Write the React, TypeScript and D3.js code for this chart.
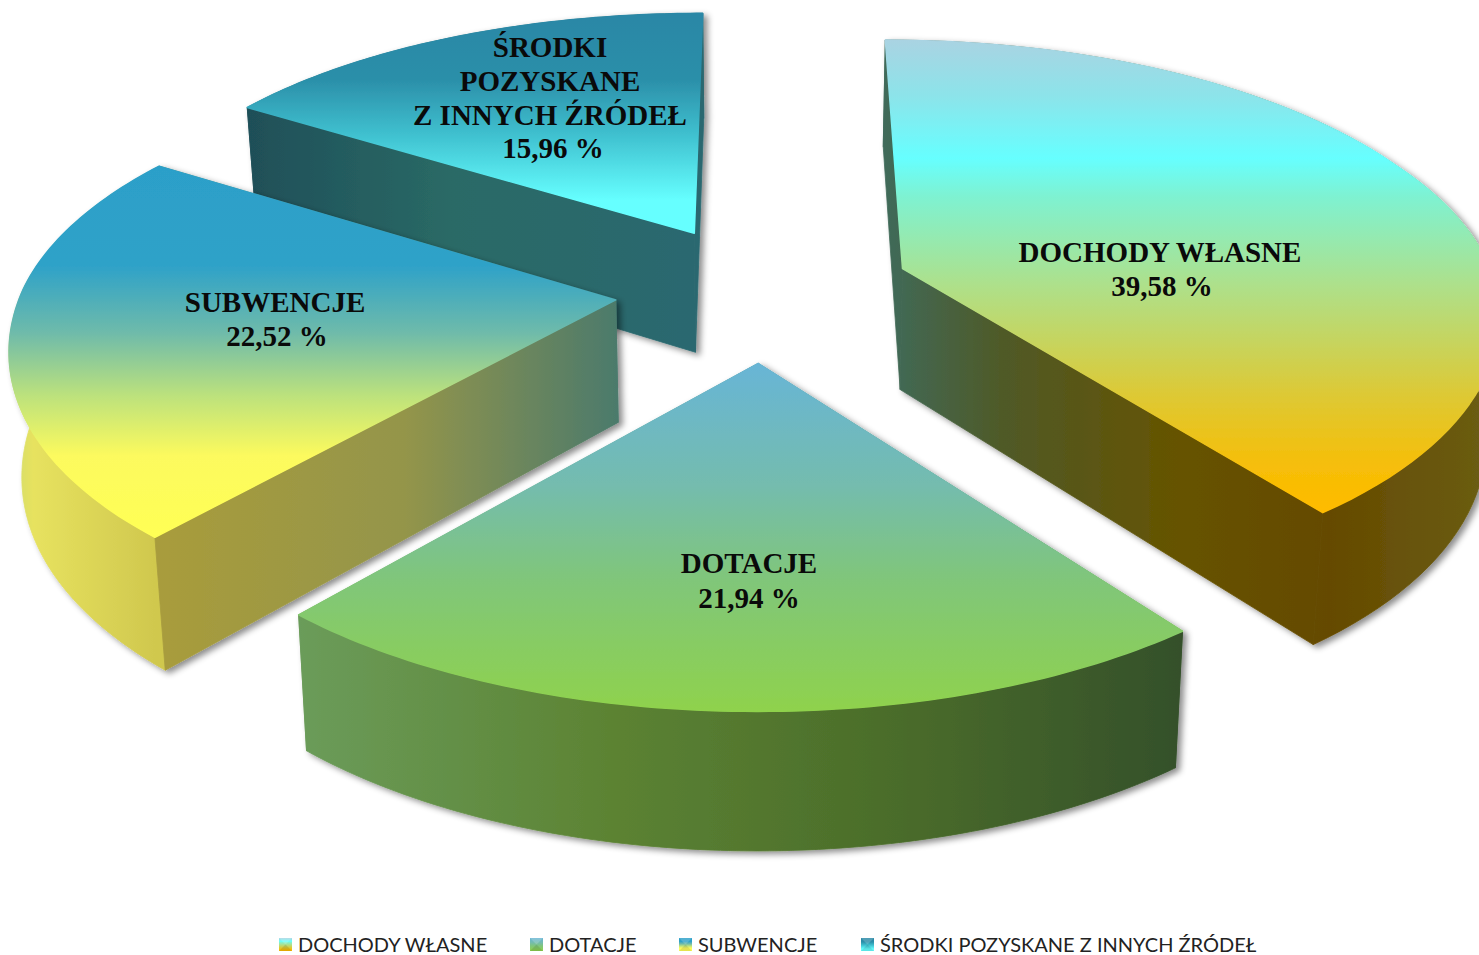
import React from "react";
import * as d3 from "d3";

const categories = ["DOCHODY WŁASNE", "DOTACJE", "SUBWENCJE", "ŚRODKI POZYSKANE Z INNYCH ŹRÓDEŁ"];
const shares = [39.58, 21.94, 22.52, 15.96];
const shareLabels = ["39,58 %", "21,94 %", "22,52 %", "15,96 %"];
const labelLines = [["DOCHODY WŁASNE"], ["DOTACJE"], ["SUBWENCJE"], ["ŚRODKI", "POZYSKANE", "Z INNYCH ŹRÓDEŁ"]];

const W = 1479, H = 955;
const cx = 763.5, cy = 290, R = 594, RT = 284.5, Dx = 7, Dy = 8, EXPLODE = 0.25, BACK = 11;

type Stop = [number, string];
const topStops: Stop[][] = [
  [[0, "#a9d3e2"], [0.12, "#8ce4ea"], [0.25, "#66ffff"], [0.33, "#7ef2d2"], [0.52, "#aee08a"], [0.75, "#ddc935"], [0.9, "#f6be08"], [1, "#ffbb00"]],
  [[0, "#68b5d6"], [0.35, "#74bcae"], [0.62, "#80c67a"], [1, "#8fd24c"]],
  [[0, "#2c9fc9"], [0.27, "#2fa2c8"], [0.45, "#6fbbaa"], [0.62, "#bde27c"], [0.78, "#fcfa5e"], [1, "#ffff55"]],
  [[0, "#2a87a6"], [0.3, "#2b8fa9"], [0.55, "#3fc0cf"], [0.85, "#66ffff"], [1, "#66ffff"]],
];
const wallStops: Stop[][] = [
  [[0, "#3f6b5c"], [0.2, "#4f5a28"], [0.5, "#665300"], [0.75, "#654a00"], [1, "#6a5c12"]],
  [[0, "#6b9c5a"], [0.35, "#5c8333"], [0.68, "#4a6c2a"], [1, "#34502a"]],
  [[0, "#a89c3c"], [0.26, "#a89c3c"], [0.65, "#94954a"], [1, "#4b7a6c"]],
  [[0, "#1f4f58"], [0.45, "#2a6a66"], [1, "#2a6870"]],
];
const subRimStops: Stop[] = [[0, "#cfdc70"], [0.04, "#e7e25f"], [0.24, "#d0c84e"], [1, "#d0c84e"]];
const labelAnchor: [number, number][] = [[1160, 262], [749, 573], [275, 312], [550, 57]];
const labelShareX = [1162, 749, 277, 553];
const legendX = [279, 530, 679, 861];

const pieGen = d3.pie<number>().sort(null).value((d) => d);
const arcs = pieGen(shares);

const project = (u: number, v: number, z: number): [number, number] => {
  const sx = Dx / (Dx - v);
  const sy = Dy / (Dy - v);
  const depth = z * (122 + 14 * v);
  const shrink = 1 - 0.017 * z;
  const back = v < 0 ? BACK * v * v + 8 * Math.min(1, -v / 0.5) : 0;
  return [cx + R * u * sx * shrink, cy + RT * v * sy + back + depth];
};

const line = d3.line<[number, number]>().curve(d3.curveLinear);

function sliceGeom(i: number) {
  const a = arcs[i];
  const mid = (a.startAngle + a.endAngle) / 2;
  const ou = EXPLODE * Math.sin(mid), ov = -EXPLODE * Math.cos(mid);
  const rim = d3.range(0, 81).map((k) => {
    const t = a.startAngle + ((a.endAngle - a.startAngle) * k) / 80;
    return [ou + Math.sin(t), ov - Math.cos(t)] as [number, number];
  });
  const apex: [number, number] = [ou, ov];
  const top = [apex, ...rim].map((p) => project(p[0], p[1], 0));
  const rimTop = rim.map((p) => project(p[0], p[1], 0));
  const rimBot = rim.map((p) => project(p[0], p[1], 1));
  const apexTop = project(apex[0], apex[1], 0);
  const apexBot = project(apex[0], apex[1], 1);
  const rimWall = [...rimTop, ...rimBot.slice().reverse()];
  const startWall = [apexTop, rimTop[0], rimBot[0], apexBot];
  const endWall = [apexTop, rimTop[80], rimBot[80], apexBot];
  const all = [...top, ...rimBot, apexBot];
  return { top, rimWall, startWall, endWall, all };
}

const order = [3, 0, 2, 1];
const fmt = (s: Stop[]) => s.map(([o, c], k) => <stop key={k} offset={o} stopColor={c} />);

export default function App() {
  const geoms = shares.map((_, i) => sliceGeom(i));
  return (
    <svg width={W} height={H} viewBox={`0 0 ${W} ${H}`} style={{ position: "absolute", left: 0, top: 0, background: "#fff" }}>
      <defs>
        <filter id="sh" x="-5%" y="-5%" width="110%" height="110%">
          <feDropShadow dx="4" dy="3" stdDeviation="3" floodColor="#000" floodOpacity="0.45" />
        </filter>
        {geoms.map((g, i) => {
          const ty = d3.extent(g.top, (p) => p[1]) as [number, number];
          const wx = d3.extent(g.all, (p) => p[0]) as [number, number];
          const x1 = i === 0 ? 880 : wx[0];
          const x2 = i === 0 ? 1479 : wx[1];
          return (
            <React.Fragment key={i}>
              <linearGradient id={`top${i}`} gradientUnits="userSpaceOnUse" x1={0} x2={0} y1={ty[0]} y2={ty[1]}>
                {fmt(topStops[i])}
              </linearGradient>
              <linearGradient id={`wall${i}`} gradientUnits="userSpaceOnUse" x1={x1} x2={x2} y1={0} y2={0}>
                {fmt(wallStops[i])}
              </linearGradient>
              <linearGradient id={`rim${i}`} gradientUnits="userSpaceOnUse" x1={x1} x2={x2} y1={0} y2={0}>
                {fmt(i === 2 ? subRimStops : wallStops[i])}
              </linearGradient>
              <linearGradient id={`leg${i}`} x1={0} x2={0} y1={0} y2={1}>
                {fmt(topStops[i])}
              </linearGradient>
            </React.Fragment>
          );
        })}
      </defs>

      {order.map((i) => {
        const g = geoms[i];
        const wall = `url(#wall${i})`;
        const rim = `url(#rim${i})`;
        return (
          <g key={i} filter="url(#sh)">
            <path d={line(g.rimWall)! + "Z"} fill={rim} stroke={rim} strokeWidth={0.8} />
            <path d={line(g.startWall)! + "Z"} fill={wall} stroke={wall} strokeWidth={0.8} />
            <path d={line(g.endWall)! + "Z"} fill={wall} stroke={wall} strokeWidth={0.8} />
            <path d={line(g.top)! + "Z"} fill={`url(#top${i})`} stroke={`url(#top${i})`} strokeWidth={1.5} strokeLinejoin="round" />
          </g>
        );
      })}

      {categories.map((_, i) => {
        const [x, y] = labelAnchor[i];
        const ls = labelLines[i];
        const lh = 34;
        return (
          <g key={i} fontFamily="'Liberation Serif', serif" fontWeight="bold" fontSize={29} textAnchor="middle" fill="#0a0a0a">
            {ls.map((t, k) => (
              <text key={k} x={x} y={y + k * lh}>{t}</text>
            ))}
            <text x={labelShareX[i]} y={y + ls.length * lh + (ls.length > 1 ? -1 : 0) + (i === 1 ? 1 : 0)}>{shareLabels[i]}</text>
          </g>
        );
      })}

      {categories.map((c, i) => (
        <g key={i} transform={`translate(${legendX[i]},938)`}>
          <rect width={13} height={13} fill={`url(#leg${i})`} />
          <path d="M0 0L13 0L6.5 6.5Z" fill="#fff" opacity={0.18} />
          <path d="M0 13L13 13L6.5 6.5Z" fill="#000" opacity={0.1} />
          <text x={19} y={13.5} fontFamily="Lato, sans-serif" fontSize={20} fill="#222">{c}</text>
        </g>
      ))}
    </svg>
  );
}
